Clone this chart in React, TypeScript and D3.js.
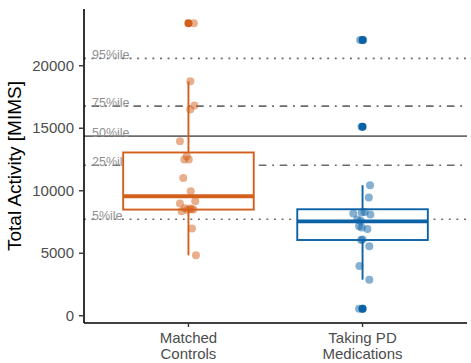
import React from "react";
import * as d3 from "d3";

// groups on the x axis
const groups = ["Matched Controls", "Taking PD Medications"];
const groupLines = [["Matched", "Controls"], ["Taking PD", "Medications"]];
const groupColors = ["#D35F1C", "#0B62A6"];

// jittered observations (value, jitter offset in category units)
const matchedValues = [23397, 18750, 16827, 16506, 13966, 12764, 12500, 12500, 11026, 9960, 9159, 8974, 8598, 8574, 8494, 8357, 8450, 8520, 6971, 4832];
const matchedJitter = [0.031, 0.011, 0.034, 0.01, -0.049, -0.01, -0.024, 0.002, -0.03, 0.013, 0.039, -0.049, -0.02, 0.009, 0.028, -0.039, -0.006, 0.017, 0.02, 0.043];
const pdValues = [22059, 22059, 15112, 10441, 9455, 8253, 8300, 8173, 8093, 7692, 7600, 7155, 7050, 6939, 6090, 6050, 5553, 3974, 2885, 561, 561];
const pdJitter = [-0.014, 0.004, -0.006, 0.043, 0.036, -0.005, 0.012, -0.053, 0.045, -0.03, -0.01, -0.02, -0.005, 0.028, 0.0, -0.008, 0.039, -0.018, 0.039, -0.02, 0.0];

// box statistics per group
const boxLower = [4832, 2885];
const boxQ1 = [8493, 6058];
const boxMedian = [9559, 7556];
const boxQ3 = [13061, 8518];
const boxUpper = [18750, 10441];
const outliers = [[23397], [22059, 15112, 561]];

// reference percentile lines
const pctLabels = ["95%ile", "75%ile", "50%ile", "25%ile", "5%ile"];
const pctValues = [20593, 16771, 14367, 12043, 7716];
const pctStyles = ["dotted", "dotdash", "solid", "dotdash", "dotted"];

const yTicks = [0, 5000, 10000, 15000, 20000];

const W = 471;
const H = 363;
const margin = { left: 84, right: 4, top: 9, bottom: 40 };
const font = "Liberation Sans, Arial, Helvetica, sans-serif";
const lwd = 1.9;

function dashFor(style: string) {
  if (style === "dotted") return `${lwd} ${lwd * 3}`;
  if (style === "dotdash") return `${lwd} ${lwd * 3} ${lwd * 4} ${lwd * 3}`;
  return undefined;
}

export default function App() {
  const x0 = margin.left;
  const x1 = W - margin.right;
  const yTop = margin.top;
  const yBot = H - margin.bottom;

  const series = [
    { values: matchedValues, jitter: matchedJitter },
    { values: pdValues, jitter: pdJitter },
  ];
  const all = [...matchedValues, ...pdValues];
  const [mn, mx] = d3.extent(all) as [number, number];
  const pad = (mx - mn) * 0.05;

  const y = d3.scaleLinear().domain([mn - pad, mx + pad]).range([yBot, yTop]);
  const x = d3.scalePoint<string>().domain(groups).range([x0, x1]).padding(0.6);
  const step = x.step();
  const boxW = step * 0.75;

  return (
    <svg
      width={W}
      height={H}
      style={{ position: "absolute", left: 0, top: 0, background: "#fff" }}
      fontFamily={font}
    >
      <rect width={W} height={H} fill="#fff" />

      {/* percentile reference lines */}
      {pctValues.map((v, i) => (
        <line
          key={"h" + i}
          x1={x0}
          x2={x1}
          y1={y(v)}
          y2={y(v)}
          stroke="#6b6b6b"
          strokeWidth={lwd * 0.85}
          strokeDasharray={dashFor(pctStyles[i])}
        />
      ))}
      {pctValues.map((v, i) => (
        <text
          key={"t" + i}
          x={x0 + 8}
          y={y(v) + 0.5}
          fontSize={12.5}
          fill="#8f8f8f"
        >
          {pctLabels[i]}
        </text>
      ))}

      {/* boxplots */}
      {groups.map((g, i) => {
        const cx = x(g) as number;
        const c = groupColors[i];
        return (
          <g key={"b" + i}>
            <line x1={cx} x2={cx} y1={y(boxUpper[i])} y2={y(boxQ3[i])} stroke={c} strokeWidth={lwd} />
            <line x1={cx} x2={cx} y1={y(boxQ1[i])} y2={y(boxLower[i])} stroke={c} strokeWidth={lwd} />
            <rect
              x={cx - boxW / 2}
              width={boxW}
              y={y(boxQ3[i])}
              height={y(boxQ1[i]) - y(boxQ3[i])}
              fill="#fff"
              stroke={c}
              strokeWidth={lwd}
            />
            <line
              x1={cx - boxW / 2}
              x2={cx + boxW / 2}
              y1={y(boxMedian[i])}
              y2={y(boxMedian[i])}
              stroke={c}
              strokeWidth={lwd * 2}
            />
            {outliers[i].map((v, k) => (
              <circle key={k} cx={cx} cy={y(v)} r={4} fill={c} />
            ))}
          </g>
        );
      })}

      {/* jittered points */}
      {series.map((s, i) => {
        const cx = x(groups[i]) as number;
        return (
          <g key={"p" + i} fill={groupColors[i]} fillOpacity={0.5}>
            {s.values.map((v, k) => (
              <circle key={k} cx={cx + s.jitter[k] * step} cy={y(v)} r={4} />
            ))}
          </g>
        );
      })}

      {/* y axis */}
      <line x1={x0} x2={x0} y1={yTop} y2={yBot} stroke="#000" strokeWidth={1.6} />
      {yTicks.map((t) => (
        <g key={"yt" + t} transform={`translate(0,${y(t)})`}>
          <line x1={x0 - 5} x2={x0} stroke="#333" strokeWidth={1.4} />
          <text x={x0 - 10} dy="0.35em" textAnchor="end" fontSize={15} fill="#4d4d4d">
            {t}
          </text>
        </g>
      ))}

      {/* x axis */}
      <line x1={x0} x2={x1} y1={yBot} y2={yBot} stroke="#000" strokeWidth={1.6} />
      {groups.map((g, i) => {
        const cx = x(g) as number;
        return (
          <g key={"xt" + i}>
            <line x1={cx} x2={cx} y1={yBot} y2={yBot + 4} stroke="#333" strokeWidth={1.4} />
            {groupLines[i].map((ln, k) => (
              <text key={k} x={cx} y={yBot + 20 + k * 16} textAnchor="middle" fontSize={15} fill="#4d4d4d">
                {ln}
              </text>
            ))}
          </g>
        );
      })}

      <text
        transform={`translate(21,${(yTop + yBot) / 2}) rotate(-90)`}
        textAnchor="middle"
        fontSize={19}
        fill="#000"
      >
        Total Activity [MIMS]
      </text>
    </svg>
  );
}
